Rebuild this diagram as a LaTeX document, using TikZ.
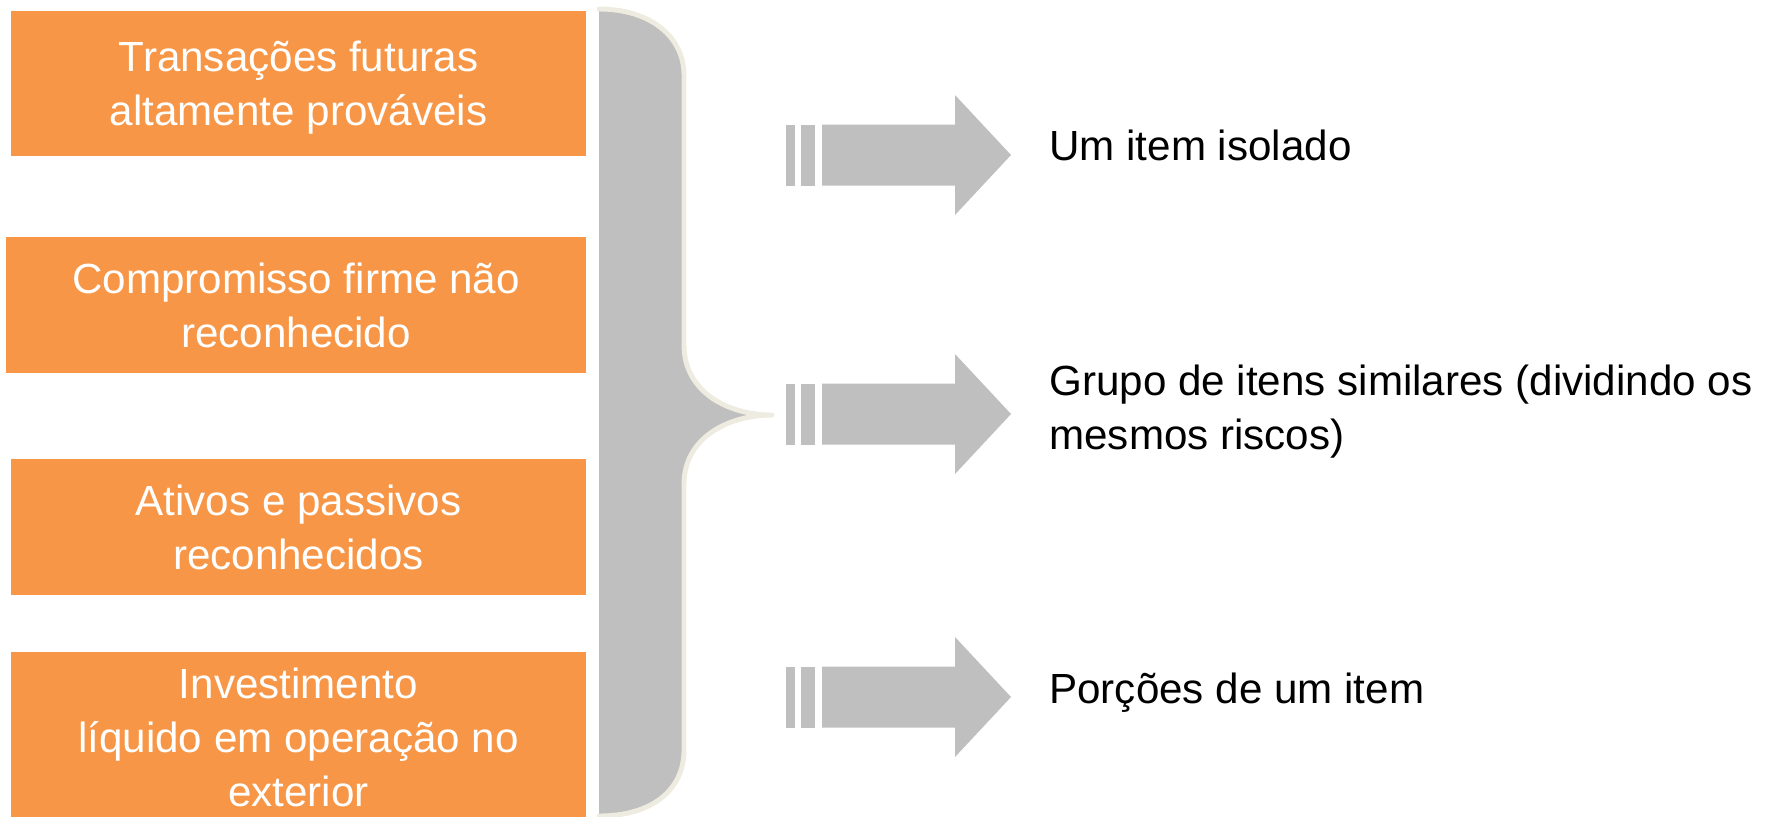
\documentclass[tikz,border=0pt]{standalone}
\usepackage{fontspec}
\setmainfont{Liberation Sans}
\definecolor{orangeboite}{HTML}{F79646}
\definecolor{grisfleche}{HTML}{BFBFBF}
\definecolor{bordaccolade}{HTML}{EEECE1}
\tikzset{
  boite/.style={fill=orangeboite, text=white, align=center, inner sep=0pt, text depth=0pt,
    minimum width=11.5cm, font=\fontsize{24}{30.7}\selectfont},
  texte/.style={inner sep=0pt, align=left, font=\fontsize{24}{30.7}\selectfont},
  fleche/.style={fill=grisfleche}
}
\begin{document}
\begin{tikzpicture}[x=0.02cm, y=-0.02cm]
\useasboundingbox (0,0) rectangle (1773,816); % Cadre de l'image
\clip (0,0) rectangle (1773,816);

\node [boite, minimum height=2.9cm] (transacoes) at (298.5,83.5) {Transações futuras\\altamente prováveis};
\node [boite, minimum height=2.72cm, minimum width=11.6cm] (compromisso) at (296,305) {Compromisso firme não\\reconhecido};
\node [boite, minimum height=2.72cm] (ativos) at (298.5,527) {Ativos e passivos\\reconhecidos};
\node [boite, minimum height=3.4cm] (investimento) at (298.5,737) {Investimento\\líquido em operação no\\exterior};

\fill [grisfleche] (599,9) .. controls (652,9) and (684,38) .. (684,75) -- (684,345)
  .. controls (684,392) and (728,415) .. (772,415)
  .. controls (728,415) and (684,438) .. (684,484) -- (684,750)
  .. controls (684,790) and (652,816) .. (599,816) -- cycle;
\draw [bordaccolade, line width=2.8pt, line cap=round, line join=round] (599,9) .. controls (652,9) and (684,38) .. (684,75) -- (684,345)
  .. controls (684,392) and (728,415) .. (772,415)
  .. controls (728,415) and (684,438) .. (684,484) -- (684,750)
  .. controls (684,790) and (652,816) .. (599,816);

\foreach \y in {155,414,697} {
  \fill [fleche] (786,\y-30.5) rectangle (795,\y+30.5);
  \fill [fleche] (801,\y-30.5) rectangle (815,\y+30.5);
  \fill [fleche] (822,\y-30.5) -- (955,\y-30.5) -- (955,\y-60) -- (1011,\y)
    -- (955,\y+60) -- (955,\y+30.5) -- (822,\y+30.5) -- cycle;
}

\node [texte, anchor=base west] (isolado) at (1049,160) {Um item isolado};
\node [texte, anchor=west] (grupo) at (1049,412) {Grupo de itens similares (dividindo os\\mesmos riscos)};
\node [texte, anchor=base west] (porcoes) at (1049,703) {Porções de um item};
\end{tikzpicture}
\end{document}
